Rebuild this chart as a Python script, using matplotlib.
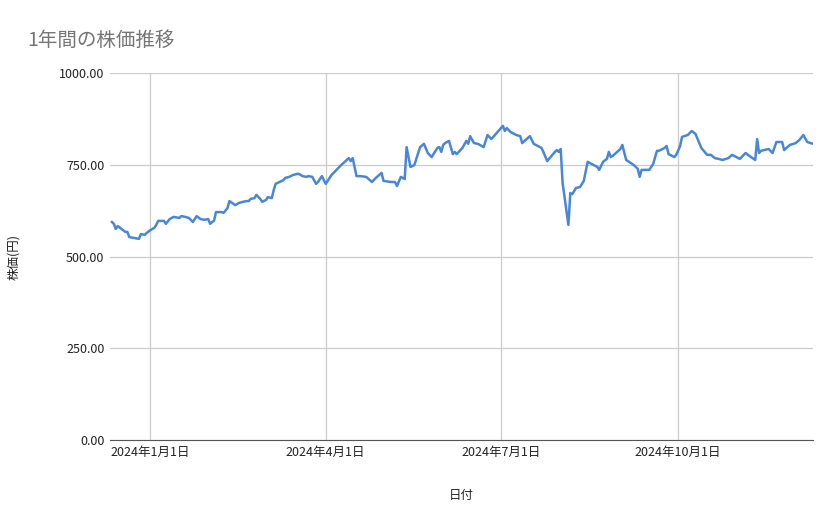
import matplotlib
matplotlib.use("Agg")
import matplotlib.pyplot as plt
import datetime as dt

plt.rcParams['font.family'] = ['Noto Sans CJK JP', 'DejaVu Sans']

day_offsets = [-20,-19,-18,-17,-15,-13,-12,-11,-8,-6,-5,-3,-2,0,2,3,4,7,8,10,12,15,16,18,20,22,23,24,26,28,30,31,32,33,34,37,38,40,41,44,46,48,50,51,52,54,55,57,58,60,61,63,64,65,67,69,70,72,74,76,77,79,81,82,84,86,87,89,91,94,99,102,103,104,105,107,109,112,115,117,120,121,125,127,128,130,132,133,135,137,140,142,144,146,149,150,151,152,153,155,157,158,159,162,164,165,166,167,168,170,173,175,177,183,184,185,187,190,192,193,197,199,203,204,206,209,211,212,213,214,217,218,219,221,223,225,227,228,232,233,235,237,238,239,240,243,244,245,247,251,252,253,254,255,259,261,263,264,267,268,269,272,273,275,276,279,281,283,286,289,291,293,295,297,300,302,306,309,311,314,315,316,317,321,323,325,328,329,332,335,337,339,341,344]
prices = [594,589,575,583,575,567,567,553,550,548,561,559,564,572,578,586,597,597,589,602,608,605,610,608,605,594,602,610,602,600,602,589,594,597,621,621,619,632,651,640,646,649,651,651,657,659,668,657,649,654,662,659,681,698,703,708,714,717,722,725,725,719,717,719,717,698,703,719,698,722,749,763,768,760,768,719,719,717,703,714,728,706,703,703,692,717,711,798,744,749,798,807,782,771,796,798,785,804,809,815,779,785,779,796,815,807,828,818,809,807,798,831,820,856,842,850,839,831,828,809,828,807,796,785,760,779,790,785,793,700,586,673,670,687,689,706,758,755,744,736,758,766,785,771,774,788,793,804,763,749,744,739,717,736,736,752,788,788,796,801,779,771,777,801,826,831,842,834,796,777,777,768,766,763,768,777,766,782,774,763,820,782,788,793,782,812,812,790,804,809,818,831,812,807]
tick_dates = ["2024-01-01", "2024-04-01", "2024-07-01", "2024-10-01"]
tick_labels = ["2024年1月1日", "2024年4月1日", "2024年7月1日", "2024年10月1日"]
y_ticks = [0, 250, 500, 750, 1000]

base = dt.date(2024, 1, 1)
dates = [base + dt.timedelta(days=d) for d in day_offsets]

fig = plt.figure(figsize=(8.39, 5.19), dpi=100)
ax = fig.add_axes([110/839, 1-440/519, 703/839, 367/519])
ax.plot(dates, prices, color='#4a86d8', lw=1.8)
ax.set_xlim(base + dt.timedelta(days=-20.3), base + dt.timedelta(days=344))
ax.set_ylim(0, 1000)
ax.set_yticks(y_ticks)
ax.set_yticklabels([f"{v:.2f}" for v in y_ticks], fontsize=9, color='#222222')
xt = [dt.date.fromisoformat(d) for d in tick_dates]
ax.set_xticks(xt)
ax.set_xticklabels(tick_labels, fontsize=9, color='#222222', ha='center')
ax.grid(True, color='#cccccc', lw=0.9)
ax.set_axisbelow(True)
for s in ['top', 'right', 'left']:
    ax.spines[s].set_visible(False)
ax.spines['bottom'].set_color('#555555')
ax.tick_params(axis='y', length=0, pad=4)
ax.tick_params(axis='x', length=0, pad=4)
ax.set_ylabel("株価(円)", fontsize=9, color='#222222', labelpad=28)
ax.set_xlabel("日付", fontsize=9, color='#222222', labelpad=22)
fig.text(27/839, 1-40/519, "1年間の株価推移", fontsize=14, color='#757575', va='center')
fig.savefig("out.png", dpi=100)
